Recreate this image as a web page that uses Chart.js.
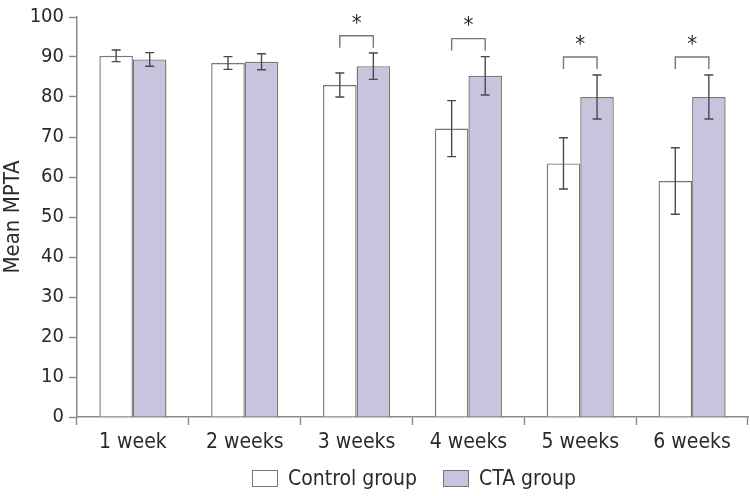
<!DOCTYPE html>
<html>
<head>
<meta charset="utf-8">
<script src="https://cdn.jsdelivr.net/npm/chart.js@4/dist/chart.umd.min.js"></script>
<style>
    html, body { margin: 0; padding: 0; background: #fff; }
    #wrap { position: relative; width: 750px; height: 496px; }
    #legend {
        position: absolute; left: 252px; top: 462px; height: 32px;
        display: flex; align-items: center;
        font-family: 'Liberation Sans Narrow', 'DejaVu Sans Condensed', Roboto, sans-serif;
        font-size: 21px; color: #2a2a2a;
    }
    #legend .box { width: 24px; height: 15px; border: 1.2px solid #777; margin-right: 10px; }
    #legend .item { display: flex; align-items: center; margin-right: 26px; }
</style>
</head>
<body>
<div id="wrap">
    <canvas id="chart" width="750" height="496"></canvas>
    <div id="legend"></div>
</div>
<script>
const weeks = ['1 week', '2 weeks', '3 weeks', '4 weeks', '5 weeks', '6 weeks'];
const seriesNames = ['Control group', 'CTA group'];
const controlMean = [90.3, 88.5, 83.0, 72.1, 63.4, 59.0];
const controlSd   = [1.45, 1.6, 3.0, 7.0, 6.4, 8.3];
const ctaMean     = [89.4, 88.8, 87.7, 85.3, 80.0, 80.0];
const ctaSd       = [1.7, 2.0, 3.3, 4.8, 5.5, 5.5];
// bracket height for significant weeks (null = no star)
const sigLevel    = [null, null, 95.3, 94.6, 90.0, 90.0];
const yTicks      = [0, 10, 20, 30, 40, 50, 60, 70, 80, 90, 100];

const FONT = "'Liberation Sans Narrow', 'DejaVu Sans Condensed', Roboto, sans-serif";
const TEXT = '#2a2a2a';
const AXIS = '#8a8a8a';
const EDGE = '#777';
const CTA_FILL = '#c7c4de';

Chart.defaults.font.family = FONT;
Chart.defaults.color = TEXT;

const errorBars = {
    id: 'errorBars',
    afterDatasetsDraw(chart) {
        const ctx = chart.ctx;
        const y = chart.scales.y;
        const sds = [controlSd, ctaSd];
        ctx.save();
        ctx.strokeStyle = '#4a4a4a';
        ctx.lineWidth = 1.4;
        chart.data.datasets.forEach((ds, i) => {
            const meta = chart.getDatasetMeta(i);
            meta.data.forEach((bar, j) => {
                const v = ds.data[j], e = sds[i][j];
                const top = y.getPixelForValue(v + e);
                const bot = y.getPixelForValue(v - e);
                ctx.beginPath();
                ctx.moveTo(bar.x, top); ctx.lineTo(bar.x, bot);
                ctx.moveTo(bar.x - 4.5, top); ctx.lineTo(bar.x + 4.5, top);
                ctx.moveTo(bar.x - 4.5, bot); ctx.lineTo(bar.x + 4.5, bot);
                ctx.stroke();
            });
        });

        // significance brackets
        const m0 = chart.getDatasetMeta(0), m1 = chart.getDatasetMeta(1);
        ctx.strokeStyle = '#777';
        ctx.lineWidth = 1.4;
        ctx.fillStyle = TEXT;
        ctx.font = '22px ' + FONT;
        ctx.textAlign = 'center';
        ctx.textBaseline = 'middle';
        sigLevel.forEach((lvl, j) => {
            if (lvl == null) return;
            const x0 = m0.data[j].x, x1 = m1.data[j].x;
            const py = y.getPixelForValue(lvl);
            ctx.beginPath();
            ctx.moveTo(x0, py + 12); ctx.lineTo(x0, py);
            ctx.lineTo(x1, py); ctx.lineTo(x1, py + 12);
            ctx.stroke();
            ctx.fillText('*', (x0 + x1) / 2, py - 12);
        });
        ctx.restore();
    }
};

new Chart(document.getElementById('chart'), {
    type: 'bar',
    data: {
        labels: weeks,
        datasets: [
            {
                label: seriesNames[0],
                data: controlMean,
                backgroundColor: '#ffffff',
                borderColor: EDGE,
                borderWidth: { top: 1.4, left: 1.4, right: 1.4, bottom: 0 },
                borderSkipped: false,
                categoryPercentage: 0.6,
                barPercentage: 1.0
            },
            {
                label: seriesNames[1],
                data: ctaMean,
                backgroundColor: CTA_FILL,
                borderColor: EDGE,
                borderWidth: { top: 1.4, left: 1.4, right: 1.4, bottom: 0 },
                borderSkipped: false,
                categoryPercentage: 0.6,
                barPercentage: 1.0
            }
        ]
    },
    options: {
        responsive: false,
        animation: false,
        layout: { padding: { top: 15, right: 2, left: 0, bottom: 0 } },
        plugins: {
            legend: { display: false },
            tooltip: { enabled: false }
        },
        scales: {
            x: {
                afterFit: s => { s.height = 79; },
                grid: {
                    offset: true,
                    drawOnChartArea: false,
                    drawTicks: true,
                    tickLength: 8,
                    tickColor: AXIS,
                    tickWidth: 1.4
                },
                border: { color: AXIS, width: 1.5 },
                ticks: { padding: 5, color: TEXT, font: { size: 21 } }
            },
            y: {
                min: 0,
                max: 100,
                afterFit: s => { s.width = 77; },
                afterBuildTicks: s => { s.ticks = yTicks.map(v => ({ value: v })); },
                grid: {
                    drawOnChartArea: false,
                    tickLength: 8,
                    tickColor: AXIS,
                    tickWidth: 1.4
                },
                border: { color: AXIS, width: 1.5 },
                ticks: { padding: 5, color: TEXT, font: { size: 20 } },
                title: {
                    display: true,
                    text: 'Mean MPTA',
                    color: TEXT,
                    font: { size: 22 },
                    padding: { top: 0, bottom: 0 }
                }
            }
        }
    },
    plugins: [errorBars]
});

// legend
const legend = document.getElementById('legend');
const fills = ['#ffffff', CTA_FILL];
seriesNames.forEach((name, i) => {
    const item = document.createElement('div');
    item.className = 'item';
    const box = document.createElement('div');
    box.className = 'box';
    box.style.background = fills[i];
    const label = document.createElement('span');
    label.textContent = name;
    item.appendChild(box);
    item.appendChild(label);
    legend.appendChild(item);
});
</script>
</body>
</html>
